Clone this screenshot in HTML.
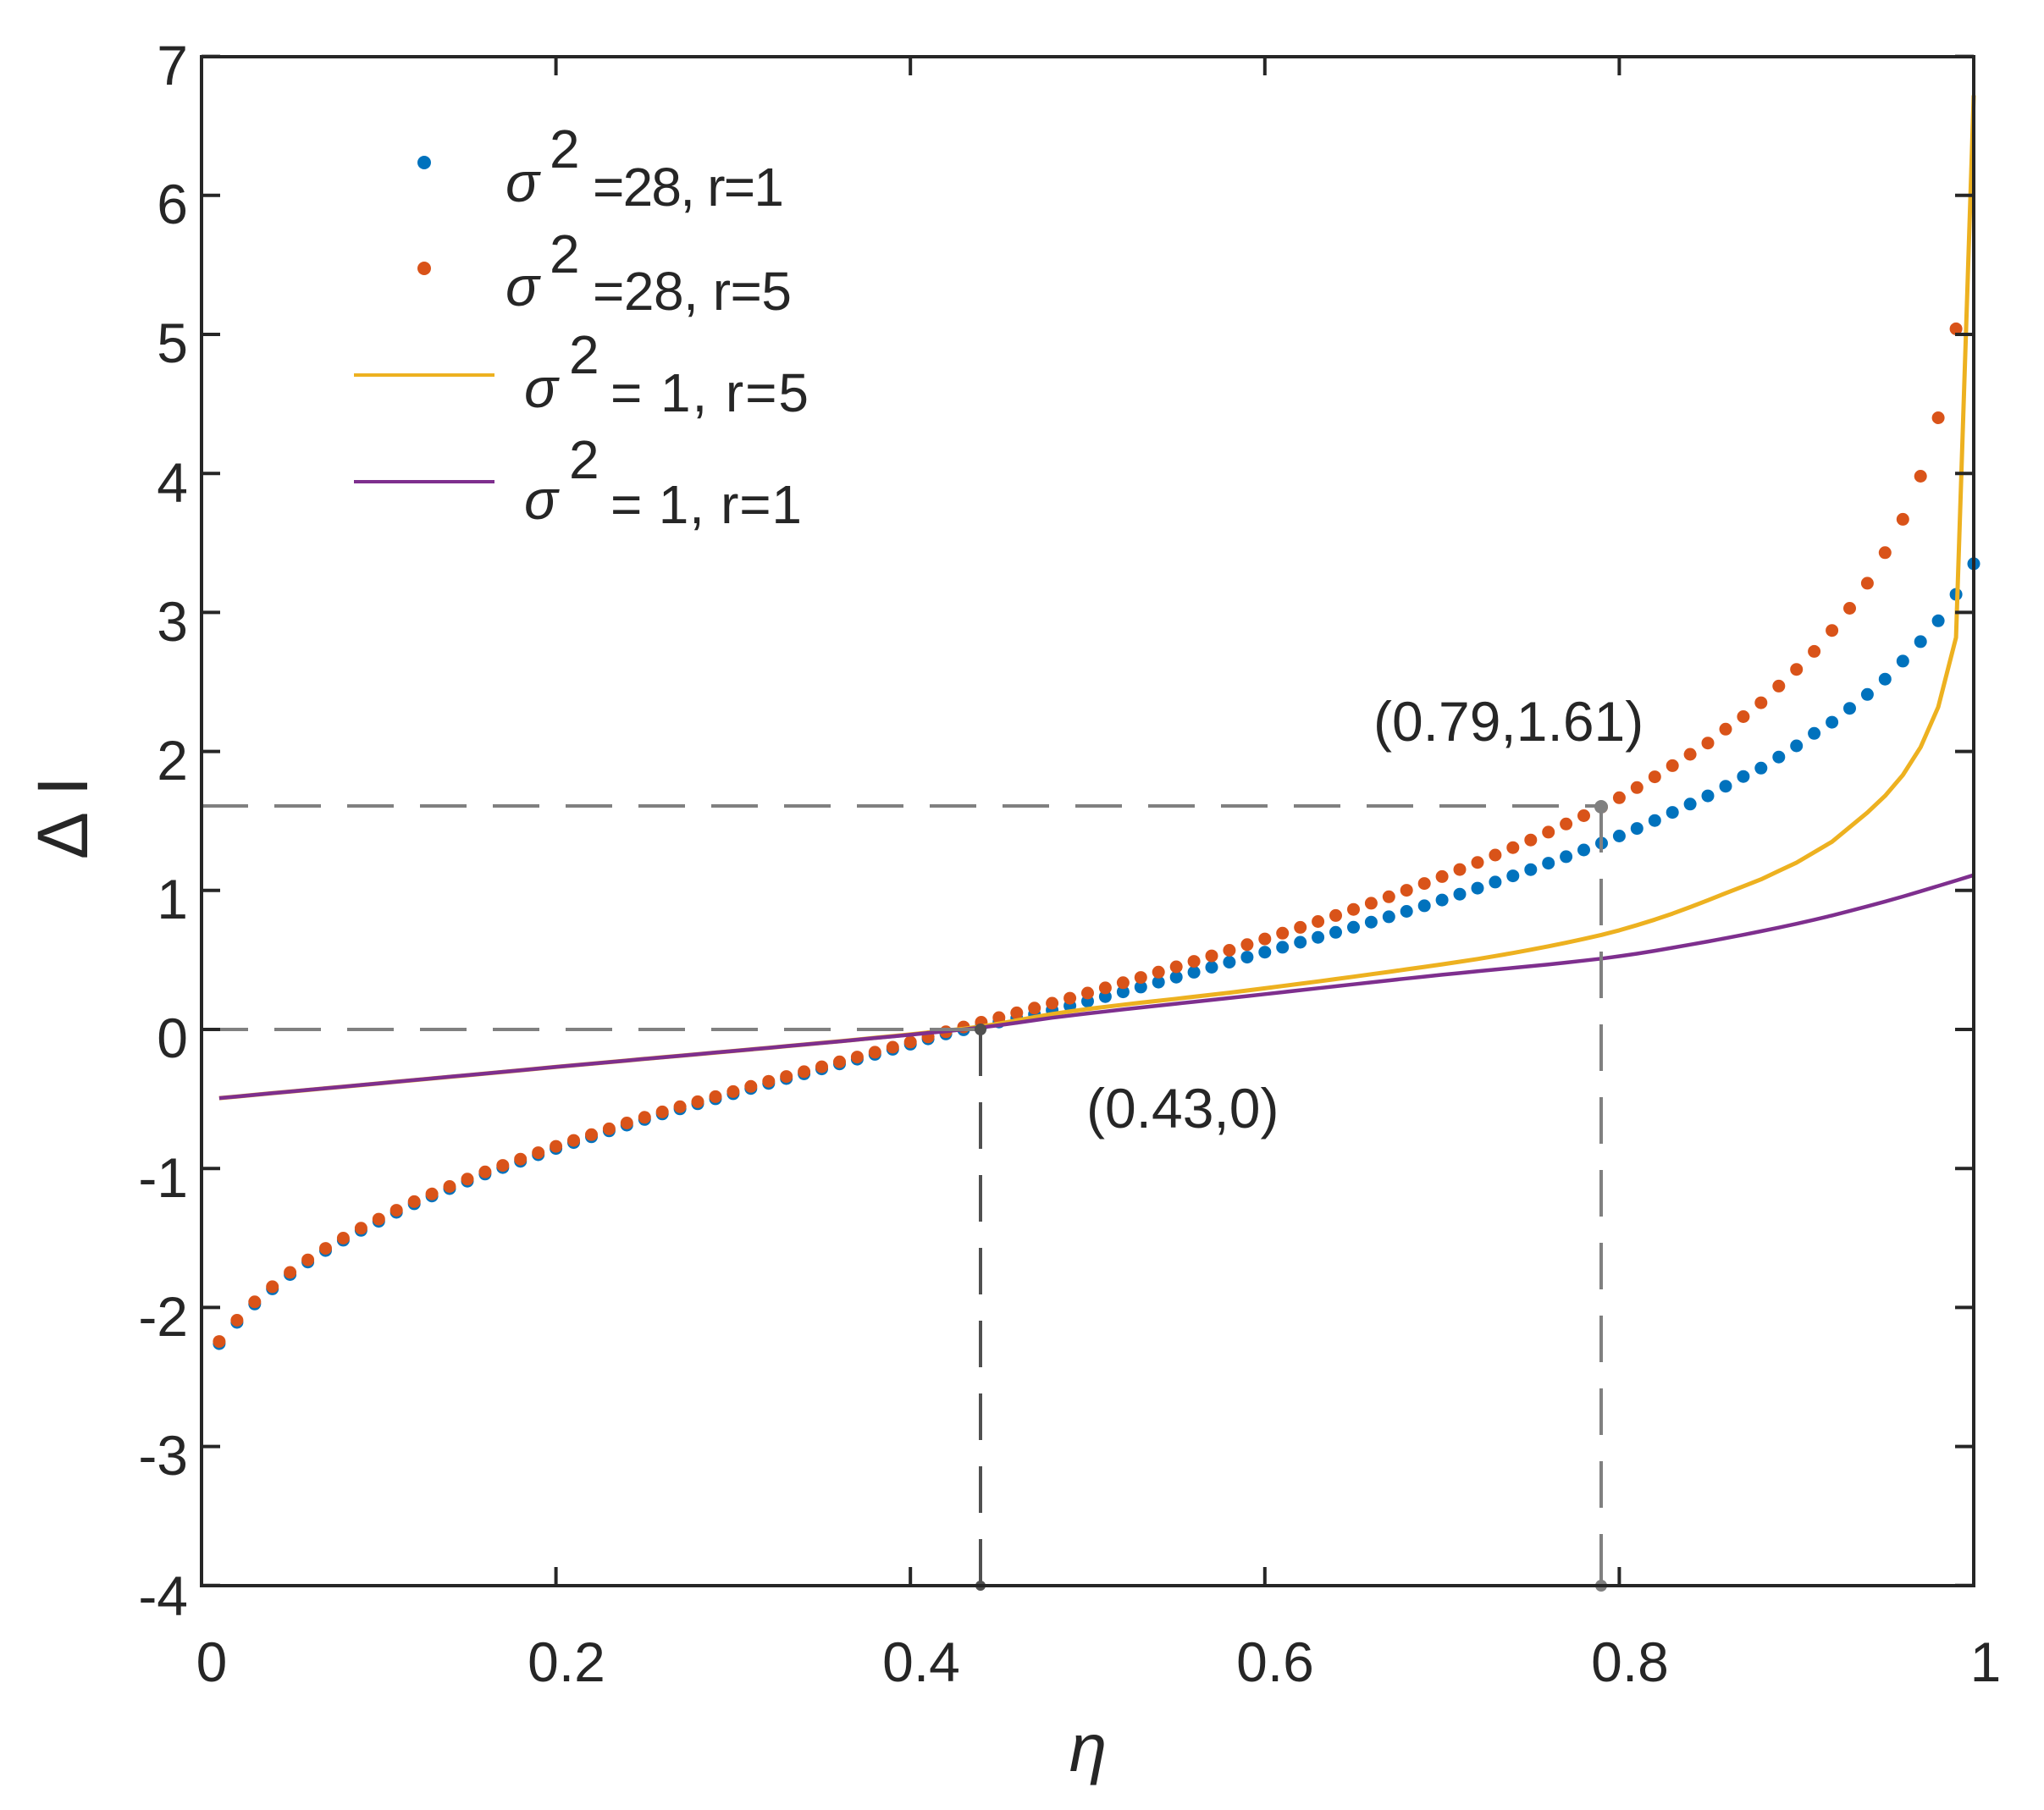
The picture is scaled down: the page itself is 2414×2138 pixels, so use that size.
<!DOCTYPE html>
<html><head><meta charset="utf-8"><style>
html,body{margin:0;padding:0;background:#fff;}
svg{display:block;}
text{font-family:"Liberation Sans",Arial,sans-serif;fill:#262626;}
</style></head><body>
<svg id="s" width="2414" height="2138" viewBox="0 0 2414 2138" xmlns="http://www.w3.org/2000/svg">
<rect x="0" y="0" width="2414" height="2138" fill="#fff"/>
<g id="series"></g>
<g id="dash" fill="none" stroke-width="4" stroke-dasharray="55,31">
<line x1="238" y1="1216" x2="1158" y2="1216" stroke="#808080"/>
<line x1="238" y1="952" x2="1891" y2="952" stroke="#808080"/>
<line x1="1158" y1="1216" x2="1158" y2="1873" stroke="#505050"/>
<line x1="1891" y1="952" x2="1891" y2="1873" stroke="#808080"/>
</g>
<circle cx="1158" cy="1216" r="7" fill="#505050"/>
<circle cx="1158" cy="1873" r="6" fill="#505050"/>
<circle cx="1891" cy="953" r="8" fill="#808080"/>
<circle cx="1891" cy="1873" r="7" fill="#808080"/>
<g id="axes" stroke="#262626" stroke-width="4" fill="none">
<rect x="238" y="67" width="2093" height="1806"/>
</g>
<g id="ticks" stroke="#262626" stroke-width="4"></g>
<g id="labels" font-size="66">
<text x="222" y="100" text-anchor="end">7</text>
<text x="222" y="264" text-anchor="end">6</text>
<text x="222" y="428" text-anchor="end">5</text>
<text x="222" y="593" text-anchor="end">4</text>
<text x="222" y="757" text-anchor="end">3</text>
<text x="222" y="921" text-anchor="end">2</text>
<text x="222" y="1085" text-anchor="end">1</text>
<text x="222" y="1249" text-anchor="end">0</text>
<text x="222" y="1414" text-anchor="end">-1</text>
<text x="222" y="1578" text-anchor="end">-2</text>
<text x="222" y="1742" text-anchor="end">-3</text>
<text x="222" y="1908" text-anchor="end">-4</text>
<text x="250" y="1986" text-anchor="middle">0</text>
<text x="669" y="1986" text-anchor="middle">0.2</text>
<text x="1088" y="1986" text-anchor="middle">0.4</text>
<text x="1506" y="1986" text-anchor="middle">0.6</text>
<text x="1925" y="1986" text-anchor="middle">0.8</text>
<text x="2345" y="1986" text-anchor="middle">1</text>
</g>
<text x="1285" y="2092" font-size="80" text-anchor="middle" font-family="Liberation Serif" font-style="italic">η</text>
<text transform="translate(103,966) rotate(-90)" font-size="84" text-anchor="middle">Δ I</text>
<text x="1622" y="875" font-size="66" fill="#000">(0.79,1.61)</text>
<text x="1283" y="1332" font-size="66" fill="#000">(0.43,0)</text>
<circle cx="501" cy="192" r="8" fill="#0072BD"/>
<circle cx="501" cy="317" r="8" fill="#D95319"/>
<line x1="418" y1="443" x2="584" y2="443" stroke="#EDB120" stroke-width="4"/>
<line x1="418" y1="569" x2="584" y2="569" stroke="#7E2F8E" stroke-width="4"/>
<g font-size="64" fill="#000">
<text x="597" y="238" font-family="Liberation Serif" font-style="italic" font-size="66" fill="#000">σ</text>
<text x="649" y="198" fill="#000">2</text>
<text x="700" y="243" fill="#000" textLength="226">=28, r=1</text>
<text x="597" y="361" font-family="Liberation Serif" font-style="italic" font-size="66" fill="#000">σ</text>
<text x="649" y="322" fill="#000">2</text>
<text x="700" y="366" fill="#000" textLength="235">=28, r=5</text>
<text x="619" y="481" font-family="Liberation Serif" font-style="italic" font-size="66" fill="#000">σ</text>
<text x="672" y="441" fill="#000">2</text>
<text x="721" y="486" fill="#000" textLength="234">= 1,  r=5</text>
<text x="619" y="613" font-family="Liberation Serif" font-style="italic" font-size="66" fill="#000">σ</text>
<text x="672" y="565" fill="#000">2</text>
<text x="721" y="618" fill="#000" textLength="226">= 1,  r=1</text>
</g>
</svg>
<script>
(function(){
var L=238,R=2331,T=67,B=1873,y0=1216,u=164.2;
function X(e){return L+e*(R-L);}
function Y(v){return y0-v*u;}
function interp(k,x){
  for(var i=0;i<k.length-1;i++){
    if(x<=k[i+1][0]||i==k.length-2){
      var x0=k[i][0],x1=k[i+1][0],a=k[i][1],b=k[i+1][1];
      var m0=i>0?(b-k[i-1][1])/(x1-k[i-1][0]):(b-a)/(x1-x0);
      var m1=i<k.length-2?(k[i+2][1]-a)/(k[i+2][0]-x0):(b-a)/(x1-x0);
      var h=x1-x0,t=(x-x0)/h;
      if(t<0)t=0;
      var t2=t*t,t3=t2*t;
      return (2*t3-3*t2+1)*a+(t3-2*t2+t)*h*m0+(-2*t3+3*t2)*b+(t3-t2)*h*m1;
    }
  }
}
var redLow=[[.01,-2.245],[.02,-2.092],[.03,-1.96],[.04,-1.851],[.05,-1.748],[.06,-1.658],[.07,-1.575],[.08,-1.501],[.09,-1.43],[.10,-1.365],[.12,-1.239],[.14,-1.13],[.16,-1.025],[.18,-.933],[.20,-.841],[.22,-.757],[.24,-.673],[.26,-.593],[.28,-.52],[.30,-.447],[.32,-.373],[.34,-.304],[.36,-.233],[.38,-.164],[.40,-.091],[.42,-.017]];
var red=redLow.concat([[.49,.225],[.59,.61],[.69,1.05],[.79,1.60],[.85,2.06],[.86,2.16],[.87,2.25],[.88,2.35],[.89,2.47],[.90,2.59],[.91,2.72],[.92,2.87],[.93,3.03],[.94,3.21],[.95,3.43],[.96,3.67],[.97,3.98],[.98,4.40],[.99,5.04]]);
var blue=redLow.map(function(p){return [p[0],p[1]-0.015];}).concat([[.49,.17],[.59,.52],[.69,.89],[.79,1.34],[.85,1.68],[.86,1.75],[.87,1.82],[.88,1.88],[.89,1.96],[.90,2.04],[.91,2.13],[.92,2.21],[.93,2.31],[.94,2.41],[.95,2.52],[.96,2.65],[.97,2.79],[.98,2.94],[.99,3.13],[1.0,3.35]]);
var purple=[[.01,-.494],[.2,-.27],[.43,0],[.49,.10],[.59,.24],[.69,.38],[.79,.51],[.84,.61],[.9,.76],[.95,.92],[1.0,1.11]];
var yellowA=[[.01,-.494],[.2,-.27],[.43,0.005],[.49,.13],[.59,.28],[.69,.45],[.74,.55],[.79,.68],[.82,.79],[.84,.88],[.86,.98],[.88,1.08]];
var yellowTail=[[.90,1.20],[.92,1.35],[.94,1.56],[.95,1.68],[.96,1.83],[.97,2.03],[.98,2.32],[.99,2.82],[1.0,6.72]];
var ns="http://www.w3.org/2000/svg",g=document.getElementById("series");
function dots(k,col,maxE){
  for(var i=1;i<=100;i++){var e=i/100;if(e>maxE+1e-9)break;
    var c=document.createElementNS(ns,"circle");c.setAttribute("cx",X(e).toFixed(1));
    c.setAttribute("cy",Y(interp(k,e)).toFixed(1));c.setAttribute("r","7.5");c.setAttribute("fill",col);g.appendChild(c);}
}
dots(blue,"#0072BD",1.0);
dots(red,"#D95319",0.99);
function line(pts,col,w){
  var p=document.createElementNS(ns,"polyline");
  p.setAttribute("points",pts.map(function(q){return X(q[0]).toFixed(1)+","+Y(q[1]).toFixed(1);}).join(" "));
  p.setAttribute("fill","none");p.setAttribute("stroke",col);p.setAttribute("stroke-width",w);p.setAttribute("stroke-linejoin","round");g.appendChild(p);
}
var yp=[];for(var i=1;i<=88;i++){var e=i/100;yp.push([e,interp(yellowA,e)]);}
yp.push([.89,1.14]);yp=yp.concat(yellowTail);
line(yp,"#EDB120",5);
var pp=[];for(var i=1;i<=100;i++){var e=i/100;pp.push([e,interp(purple,e)]);}
line(pp,"#7E2F8E",4.5);
var tg=document.getElementById("ticks");
function tk(x1,y1,x2,y2){var l=document.createElementNS(ns,"line");l.setAttribute("x1",x1);l.setAttribute("y1",y1);l.setAttribute("x2",x2);l.setAttribute("y2",y2);tg.appendChild(l);}
for(var v=-4;v<=7;v++){var y=Y(v);tk(L,y,L+22,y);tk(R,y,R-22,y);}
for(var j=0;j<=5;j++){var x=X(j*0.2);tk(x,B,x,B-22);tk(x,T,x,T+22);}
})();
</script>
</body></html>
